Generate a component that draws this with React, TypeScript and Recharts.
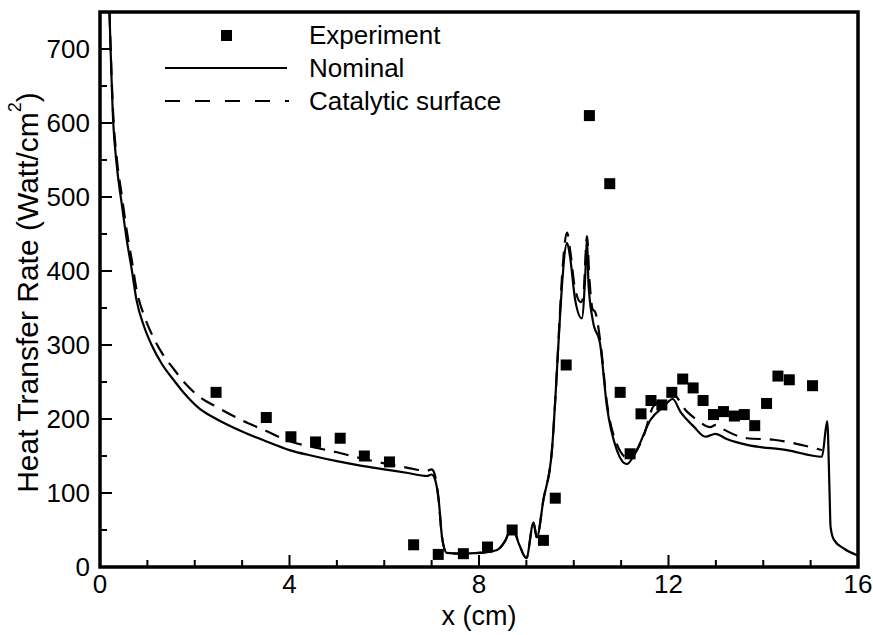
import {
    ComposedChart,
    Line,
    Scatter,
    XAxis,
    YAxis,
    ReferenceArea,
} from 'recharts';

// x ticks (every 1 cm, labels every 4) and y ticks (every 50, labels every 100)
const xTicks = [0, 1, 2, 3, 4, 5, 6, 7, 8, 9, 10, 11, 12, 13, 14, 15, 16];
const yTicks = [0, 50, 100, 150, 200, 250, 300, 350, 400, 450, 500, 550, 600, 650, 700];

// Experiment (x cm, Watt/cm2)
const experiment = [
    { x: 2.45, y: 236 }, { x: 3.51, y: 202 }, { x: 4.03, y: 176 }, { x: 4.55, y: 169 },
    { x: 5.07, y: 174 }, { x: 5.58, y: 150 }, { x: 6.11, y: 142 }, { x: 6.62, y: 30 },
    { x: 7.14, y: 17 }, { x: 7.67, y: 18 }, { x: 8.18, y: 27 }, { x: 8.7, y: 50 },
    { x: 9.36, y: 36 }, { x: 9.61, y: 93 }, { x: 9.84, y: 273 }, { x: 10.33, y: 610 },
    { x: 10.76, y: 518 }, { x: 10.98, y: 236 }, { x: 11.19, y: 153 }, { x: 11.42, y: 207 },
    { x: 11.63, y: 225 }, { x: 11.86, y: 219 }, { x: 12.07, y: 236 }, { x: 12.3, y: 254 },
    { x: 12.52, y: 242 }, { x: 12.73, y: 225 }, { x: 12.95, y: 206 }, { x: 13.16, y: 210 },
    { x: 13.39, y: 204 }, { x: 13.6, y: 206 }, { x: 13.82, y: 191 }, { x: 14.07, y: 221 },
    { x: 14.31, y: 258 }, { x: 14.55, y: 253 }, { x: 15.04, y: 245 },
];

// Nominal (solid)
const nominal = [
    { x: 0.2, y: 750 }, { x: 0.28, y: 600 }, { x: 0.35, y: 545 }, { x: 0.46, y: 490 },
    { x: 0.57, y: 440 }, { x: 0.67, y: 402 }, { x: 0.77, y: 361 }, { x: 0.93, y: 325 },
    { x: 1.09, y: 300 }, { x: 1.3, y: 275 }, { x: 1.55, y: 253 }, { x: 1.8, y: 233 },
    { x: 2.1, y: 214 }, { x: 2.4, y: 202 }, { x: 3.0, y: 183 }, { x: 3.5, y: 170 },
    { x: 4.0, y: 158 }, { x: 4.5, y: 150 }, { x: 5.0, y: 143 }, { x: 5.5, y: 137 },
    { x: 6.0, y: 132 }, { x: 6.5, y: 127 }, { x: 6.9, y: 123 }, { x: 7.0, y: 125 },
    { x: 7.05, y: 122 }, { x: 7.15, y: 90 }, { x: 7.22, y: 40 }, { x: 7.32, y: 19 },
    { x: 7.6, y: 18 }, { x: 8.0, y: 19 }, { x: 8.38, y: 23 }, { x: 8.55, y: 35 },
    { x: 8.7, y: 54 }, { x: 8.85, y: 30 }, { x: 9.0, y: 12 }, { x: 9.15, y: 60 },
    { x: 9.22, y: 40 }, { x: 9.36, y: 91 }, { x: 9.54, y: 158 }, { x: 9.61, y: 226 },
    { x: 9.71, y: 339 }, { x: 9.75, y: 379 }, { x: 9.86, y: 438 }, { x: 9.92, y: 420 },
    { x: 10.03, y: 361 }, { x: 10.17, y: 336 }, { x: 10.24, y: 390 }, { x: 10.28, y: 445 },
    { x: 10.31, y: 384 }, { x: 10.4, y: 334 }, { x: 10.56, y: 300 }, { x: 10.7, y: 217 },
    { x: 10.91, y: 158 }, { x: 11.12, y: 139 }, { x: 11.33, y: 158 }, { x: 11.62, y: 199 },
    { x: 11.9, y: 217 }, { x: 12.09, y: 227 }, { x: 12.25, y: 210 }, { x: 12.53, y: 190 },
    { x: 12.78, y: 176 }, { x: 12.99, y: 180 }, { x: 13.23, y: 173 }, { x: 13.66, y: 165 },
    { x: 14.5, y: 158 }, { x: 15.24, y: 149 }, { x: 15.35, y: 197 }, { x: 15.4, y: 100 },
    { x: 15.42, y: 55 }, { x: 15.49, y: 37 }, { x: 15.7, y: 25 }, { x: 15.98, y: 16 },
];

// Catalytic surface (dashed)
const catalytic = [
    { x: 0.2, y: 750 }, { x: 0.28, y: 610 }, { x: 0.35, y: 555 }, { x: 0.46, y: 502 },
    { x: 0.57, y: 452 }, { x: 0.67, y: 415 }, { x: 0.77, y: 375 }, { x: 0.93, y: 340 },
    { x: 1.09, y: 315 }, { x: 1.3, y: 290 }, { x: 1.55, y: 268 }, { x: 1.8, y: 248 },
    { x: 2.1, y: 230 }, { x: 2.5, y: 215 }, { x: 3.0, y: 198 }, { x: 3.5, y: 184 },
    { x: 4.0, y: 170 }, { x: 4.5, y: 162 }, { x: 5.0, y: 155 }, { x: 5.5, y: 147 },
    { x: 6.0, y: 140 }, { x: 6.5, y: 134 }, { x: 6.9, y: 130 }, { x: 7.0, y: 132 },
    { x: 7.05, y: 128 }, { x: 7.15, y: 90 }, { x: 7.22, y: 40 }, { x: 7.32, y: 19 },
    { x: 7.6, y: 18 }, { x: 8.0, y: 19 }, { x: 8.38, y: 23 }, { x: 8.55, y: 35 },
    { x: 8.7, y: 54 }, { x: 8.85, y: 30 }, { x: 9.0, y: 12 }, { x: 9.15, y: 60 },
    { x: 9.22, y: 40 }, { x: 9.36, y: 91 }, { x: 9.54, y: 158 }, { x: 9.61, y: 226 },
    { x: 9.71, y: 345 }, { x: 9.75, y: 390 }, { x: 9.86, y: 452 }, { x: 9.92, y: 430 },
    { x: 10.03, y: 375 }, { x: 10.15, y: 358 }, { x: 10.2, y: 365 }, { x: 10.28, y: 447 },
    { x: 10.33, y: 390 }, { x: 10.4, y: 348 }, { x: 10.45, y: 345 }, { x: 10.56, y: 305 },
    { x: 10.7, y: 222 }, { x: 10.91, y: 166 }, { x: 11.15, y: 147 }, { x: 11.47, y: 176 },
    { x: 11.68, y: 217 }, { x: 12.09, y: 233 }, { x: 12.39, y: 210 }, { x: 12.6, y: 199 },
    { x: 12.88, y: 189 }, { x: 13.0, y: 192 }, { x: 13.16, y: 186 }, { x: 13.66, y: 174 },
    { x: 14.22, y: 172 }, { x: 15.0, y: 162 }, { x: 15.24, y: 158 },
];

const FONT = '"Liberation Sans", Arial, sans-serif';

const XTick = ({ x, y, payload }: any) => {
    const major = payload.value % 4 === 0;
    return (
        <g>
            <line x1={x} x2={x} y1={y} y2={y - (major ? 12 : 7)} stroke="#000" strokeWidth={2} />
            {major && (
                <text x={x} y={y + 26} textAnchor="middle" fontSize={26} fontFamily={FONT} fill="#000">
                    {payload.value}
                </text>
            )}
        </g>
    );
};

const YTick = ({ x, y, payload }: any) => {
    const major = payload.value % 100 === 0;
    return (
        <g>
            <line x1={x} x2={x + (major ? 12 : 7)} y1={y} y2={y} stroke="#000" strokeWidth={2} />
            {major && (
                <text x={x - 10} y={y + 9} textAnchor="end" fontSize={26} fontFamily={FONT} fill="#000">
                    {payload.value}
                </text>
            )}
        </g>
    );
};

const Square = (props: any) => {
    const { cx, cy } = props;
    return <rect x={cx - 5.5} y={cy - 5.5} width={11} height={11} fill="#000" />;
};

const YLabel = ({ viewBox }: any) => {
    const cx = 27;
    const cy = viewBox.y + viewBox.height / 2 + 3;
    return (
        <text
            x={cx}
            y={cy}
            transform={`rotate(-90 ${cx} ${cy})`}
            textAnchor="middle"
            dominantBaseline="central"
            fontSize={30}
            fontFamily={FONT}
            fill="#000"
        >
            Heat Transfer Rate (Watt/cm
            <tspan fontSize={18} dy={-12}>2</tspan>
            <tspan dy={12}>)</tspan>
        </text>
    );
};

const XLabel = ({ viewBox }: any) => (
    <text x={viewBox.x + viewBox.width / 2} y={625} textAnchor="middle" fontSize={27} fontFamily={FONT} fill="#000">
        x (cm)
    </text>
);

const Legend = () => (
    <svg width={873} height={130} style={{ position: 'absolute', left: 0, top: 0, pointerEvents: 'none' }}>
        <rect x={221} y={30} width={11} height={11} fill="#000" />
        <line x1={165} x2={287} y1={68} y2={68} stroke="#000" strokeWidth={2} />
        <line x1={165} x2={289} y1={101} y2={101} stroke="#000" strokeWidth={2} strokeDasharray="15 15" />
        <g fontSize={26} fontFamily={FONT} fill="#000">
            <text x={309} y={44}>Experiment</text>
            <text x={309} y={77}>Nominal</text>
            <text x={309} y={110}>Catalytic surface</text>
        </g>
    </svg>
);

export default function App() {
    return (
        <div style={{ position: 'absolute', left: 0, top: 0, width: 873, height: 635, background: '#fff' }}>
            <ComposedChart width={873} height={635} margin={{ top: 12, right: 15, left: 20, bottom: 28 }}>
                <XAxis
                    dataKey="x"
                    type="number"
                    domain={[0, 16]}
                    ticks={xTicks}
                    interval={0}
                    height={40}
                    tickSize={0}
                    tickMargin={0}
                    axisLine={false}
                    tick={(p: any) => <XTick {...p} />}
                    label={<XLabel />}
                    allowDataOverflow
                />
                <YAxis
                    type="number"
                    domain={[0, 750]}
                    ticks={yTicks}
                    interval={0}
                    width={80}
                    tickSize={0}
                    tickMargin={0}
                    axisLine={false}
                    tick={(p: any) => <YTick {...p} />}
                    label={<YLabel />}
                    allowDataOverflow
                />
                <Line
                    data={nominal}
                    dataKey="y"
                    type="monotone"
                    stroke="#000"
                    strokeWidth={2.2}
                    dot={false}
                    isAnimationActive={false}
                />
                <Line
                    data={catalytic}
                    dataKey="y"
                    type="monotone"
                    stroke="#000"
                    strokeWidth={2.2}
                    strokeDasharray="15 9"
                    dot={false}
                    isAnimationActive={false}
                />
                <Scatter data={experiment} dataKey="y" shape={<Square />} isAnimationActive={false} />
                <ReferenceArea x1={0} x2={16} y1={0} y2={750} fill="none" stroke="#000" strokeWidth={3.5} />
            </ComposedChart>
            <Legend />
        </div>
    );
}
